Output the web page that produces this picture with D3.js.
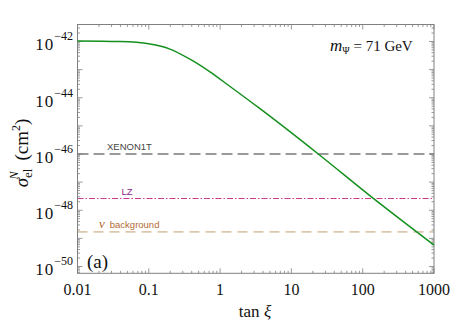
<!DOCTYPE html>
<html><head><meta charset="utf-8">
<script src="https://cdn.jsdelivr.net/npm/d3@7"></script>
<style>body{margin:0;background:#fff}svg{display:block}</style>
</head><body><svg id="c" width="452" height="328" font-family="'Liberation Serif','Times New Roman',serif"></svg>
<script>
// tan(xi) samples and log10 of the elastic cross section (cm^2)
const tanXi   = [0.01, 0.0394, 0.104, 0.198, 0.378, 0.721, 1.38, 3.63, 23.8, 141, 1000];
const logSigma = [-41.98, -42.0, -42.09, -42.27, -42.63, -43.08, -43.6, -44.39, -46.0, -47.58, -49.24];
// experimental limits (log10 cm^2)
const limitNames = ["XENON1T", "LZ", "background"];
const limitLog   = [-46.0, -47.58, -48.77];
const xTicks = [0.01, 0.1, 1, 10, 100, 1000];
const xTickLabels = ["0.01", "0.1", "1", "10", "100", "1000"];
const yTickExp = [-42, -44, -46, -48, -50];

const svg = d3.select("#c");
const serif = "'Liberation Serif','Times New Roman',serif";
const sans = "'Liberation Sans',Arial,sans-serif";
const L = 77.5, R = 434, T = 24.5, B = 273.3;
const x = d3.scaleLog().domain([0.01, 1000]).range([L, R]);
const y = d3.scaleLog().domain([Math.pow(10, -50.242), Math.pow(10, -41.396)]).range([B, T]);

const frame = "#808080";
const xMinor = [], yMinor = [];
for (let e = -2; e < 3; e++) for (let k = 2; k < 10; k++) xMinor.push(k * Math.pow(10, e));
for (let e = -51; e < -41; e++) for (let k = 2; k < 10; k++) { const v = k * Math.pow(10, e); if (v >= y.domain()[0] && v <= y.domain()[1]) yMinor.push(v); }
const xMajor = d3.range(-2, 4).map(e => Math.pow(10, e));
const yMajor = d3.range(-50, -41).map(e => Math.pow(10, e));

const tk = svg.append("g").attr("stroke", frame).attr("stroke-width", 0.8);
xMinor.forEach(v => { const px = x(v);
  tk.append("line").attr("x1", px).attr("x2", px).attr("y1", B).attr("y2", B - 2.5);
  tk.append("line").attr("x1", px).attr("x2", px).attr("y1", T).attr("y2", T + 2.5); });
xMajor.forEach(v => { const px = x(v);
  tk.append("line").attr("x1", px).attr("x2", px).attr("y1", B).attr("y2", B - 5);
  tk.append("line").attr("x1", px).attr("x2", px).attr("y1", T).attr("y2", T + 5); });
yMinor.forEach(v => { const py = y(v);
  tk.append("line").attr("x1", L).attr("x2", L + 2.5).attr("y1", py).attr("y2", py);
  tk.append("line").attr("x1", R).attr("x2", R - 2.5).attr("y1", py).attr("y2", py); });
yMajor.forEach(v => { const py = y(v);
  tk.append("line").attr("x1", L).attr("x2", L + 5).attr("y1", py).attr("y2", py);
  tk.append("line").attr("x1", R).attr("x2", R - 5).attr("y1", py).attr("y2", py); });

// limit lines
const limStyles = [
  {stroke: "#7a7a7a", dash: "11,5", w: 1.6},
  {stroke: "#cc3a8e", dash: "6,2,1.5,2", w: 1.1},
  {stroke: "#dcc6ae", dash: "10,6", w: 1.6}
];
limitLog.forEach((lv, i) => {
  svg.append("line").attr("x1", L).attr("x2", R).attr("y1", y(Math.pow(10, lv))).attr("y2", y(Math.pow(10, lv)))
    .attr("stroke", limStyles[i].stroke).attr("stroke-width", limStyles[i].w).attr("stroke-dasharray", limStyles[i].dash);
});
svg.append("text").attr("x", 107).attr("y", y(Math.pow(10, limitLog[0])) - 3.5).attr("font-family", sans)
  .attr("font-size", 9.5).attr("fill", "#444").text(limitNames[0]);
svg.append("text").attr("x", 121.5).attr("y", y(Math.pow(10, limitLog[1])) - 3.5).attr("font-family", sans)
  .attr("font-size", 9.5).attr("fill", "#8a2a8a").text(limitNames[1]);
const nb = svg.append("text").attr("x", 99).attr("y", y(Math.pow(10, limitLog[2])) - 4).attr("fill", "#b36a30");
nb.append("tspan").attr("font-family", serif).attr("font-style", "italic").attr("font-size", 13).text("ν");
nb.append("tspan").attr("dx", 5).attr("font-family", sans).attr("font-size", 9.5).text(limitNames[2]);

// frame
svg.append("rect").attr("x", L).attr("y", T).attr("width", R - L).attr("height", B - T)
  .attr("fill", "none").attr("stroke", frame).attr("stroke-width", 1);

// curve
const pts = tanXi.map((t, i) => [t, Math.pow(10, logSigma[i])]);
svg.append("path").datum(pts)
  .attr("d", d3.line().x(d => x(d[0])).y(d => y(d[1])).curve(d3.curveMonotoneX))
  .attr("fill", "none").attr("stroke", "#14901e").attr("stroke-width", 1.5);

// x tick labels
xTicks.forEach((v, i) => {
  svg.append("text").attr("x", x(v)).attr("y", B + 22).attr("text-anchor", "middle").attr("font-family", serif)
    .attr("font-size", 16).attr("fill", "#111").text(xTickLabels[i]);
});
// y tick labels
yTickExp.forEach(e => {
  const t = svg.append("text").attr("x", 73).attr("y", y(Math.pow(10, e)) + 9).attr("text-anchor", "end")
    .attr("font-family", serif).attr("fill", "#111");
  t.append("tspan").attr("font-size", 17).attr("letter-spacing", 1).text("10");
  t.append("tspan").attr("font-size", 12).attr("dy", -10).text("−" + (-e));
});

// axis titles
svg.append("text").attr("x", 255).attr("y", 317).attr("text-anchor", "middle").attr("font-family", serif)
  .attr("font-size", 17).attr("fill", "#111")
  .html('tan <tspan font-style="italic">ξ</tspan>');
const yl = svg.append("text").attr("transform", "translate(28,153) rotate(-90)").attr("text-anchor", "middle")
  .attr("font-family", serif).attr("fill", "#111").attr("font-size", 19);
yl.append("tspan").attr("font-style", "italic").text("σ");
yl.append("tspan").attr("font-size", 13).attr("dy", 4).text("el");
yl.append("tspan").attr("font-size", 12).attr("font-style", "italic").attr("dx", -11).attr("dy", -14).text("N");
yl.append("tspan").attr("dx", 11).attr("dy", 10).text("(cm");
yl.append("tspan").attr("font-size", 12).attr("dy", -8).text("2");
yl.append("tspan").attr("dy", 8).text(")");

// mass annotation
const m = svg.append("text").attr("x", 330).attr("y", 51).attr("font-family", serif).attr("fill", "#111").attr("font-size", 17);
m.append("tspan").attr("font-style", "italic").text("m");
m.append("tspan").attr("font-size", 10).attr("dy", 3).text("Ψ");
m.append("tspan").attr("dy", -3).attr("font-size", 15).text(" = 71 GeV");

svg.append("text").attr("x", 87).attr("y", 268).attr("font-family", serif).attr("font-size", 19).attr("fill", "#111").text("(a)");
</script></body></html>
